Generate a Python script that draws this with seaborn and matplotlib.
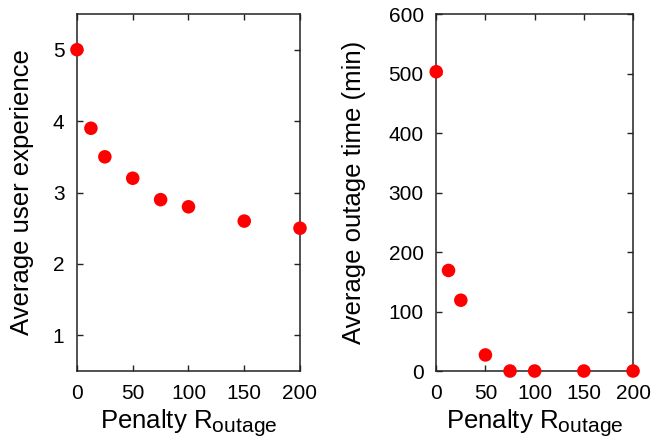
import pandas as pd
import seaborn as sns
import matplotlib.pyplot as plt
import matplotlib._mathtext as mtext

# data
penalty = [0, 12.5, 25, 50, 75, 100, 150, 200]
user_exp = [5.0, 3.9, 3.5, 3.2, 2.9, 2.8, 2.6, 2.5]
outage_time = [503, 169, 119, 27, 0, 0, 0, 0]
xticks = [0, 50, 100, 150, 200]

df = pd.DataFrame({'penalty': penalty, 'ux': user_exp, 'outage': outage_time})

sns.set_style('ticks')
plt.rcParams['font.family'] = ['Liberation Sans', 'DejaVu Sans']
plt.rcParams['mathtext.default'] = 'regular'
plt.rcParams['text.color'] = 'black'
mtext.SHRINK_FACTOR = 0.82  # bigger subscript, like the original

fig = plt.figure(figsize=(6.54, 4.42), dpi=100)
ax1 = fig.add_axes([0.1177, 0.1606, 0.341, 0.8077])
ax2 = fig.add_axes([0.667, 0.1606, 0.301, 0.8077])

xlabel = 'Penalty R$_{outage}$'

for ax, col, ylab, ylim, yt, lx in [
        (ax1, 'ux', 'Average user experience', (0.5, 5.5), [1, 2, 3, 4, 5], 34),
        (ax2, 'outage', 'Average outage time (min)', (0, 600), [0, 100, 200, 300, 400, 500, 600], 366)]:
    sns.scatterplot(x='penalty', y=col, data=df, ax=ax, color='#ff0000',
                    s=95, edgecolor='none', clip_on=False, zorder=5)
    ax.set_xlim(0, 200)
    ax.set_ylim(*ylim)
    ax.set_xticks(xticks)
    ax.set_yticks(yt)
    ax.tick_params(direction='in', length=4, width=1, top=True, right=True,
                   labelsize=15, colors='#222222', labelcolor='black')
    ax.tick_params(axis='x', pad=9)
    ax.tick_params(axis='y', pad=9)
    for sp in ax.spines.values():
        sp.set_color('#222222')
        sp.set_linewidth(1.1)
    ax.set_xlabel(xlabel, fontsize=18.5, labelpad=4, color='black')
    ax.set_ylabel(ylab, fontsize=18.5, color='black')
    ax.yaxis.set_label_coords(lx / 654, (442 - 192.5) / 442, transform=fig.transFigure)

plt.savefig('out.png', dpi=100)
